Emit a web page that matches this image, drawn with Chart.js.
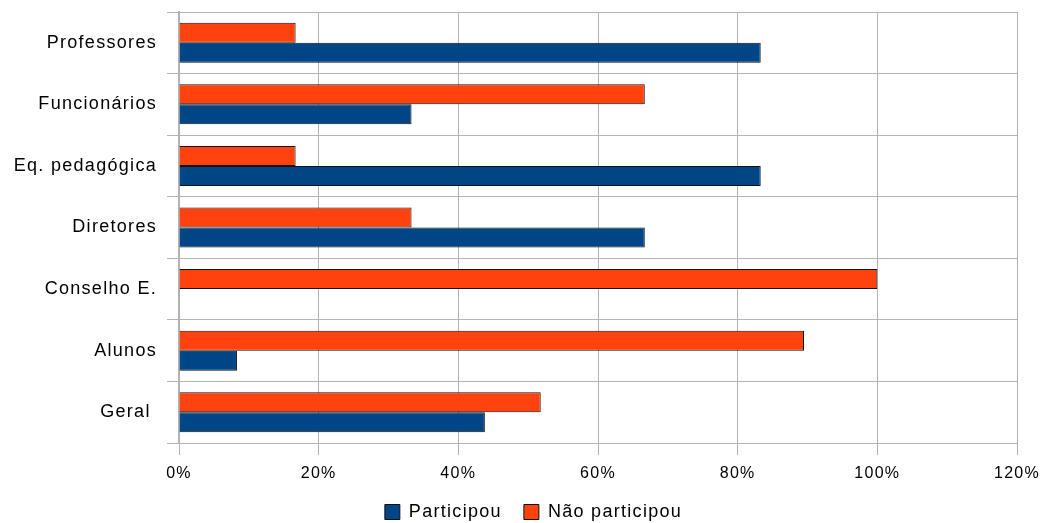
<!DOCTYPE html>
<html>
<head>
<meta charset="utf-8">
<script src="https://cdn.jsdelivr.net/npm/chart.js@4/dist/chart.umd.min.js"></script>
<style>
  html, body { margin: 0; padding: 0; background: #fff; }
  #wrap { width: 1045px; height: 523px; position: relative; }
</style>
</head>
<body>
<div id="wrap"><canvas id="chart"></canvas></div>
<script>
'use strict';

// categories, top to bottom
const categories = ['Professores', 'Funcionários', 'Eq. pedagógica', 'Diretores', 'Conselho E.', 'Alunos', 'Geral '];
// percentages
const participou    = [83.3, 33.3, 83.3, 66.7, 0, 8.3, 43.8];
const naoParticipou = [16.7, 66.7, 16.7, 33.3, 100, 89.5, 51.8];
const xTicks = [0, 20, 40, 60, 80, 100, 120];

const FONT = 'Liberation Sans, Arial, sans-serif';
const GRID = '#b3b3b3';

// the original text is set a bit wide
const spacing = {
  id: 'spacing',
  beforeLayout: c => { c.ctx.letterSpacing = '1.3px'; },
  beforeDraw: c => { c.ctx.letterSpacing = '1.3px'; },
};

// nudge the legend a little right, like the original
const legendNudge = {
  id: 'legendNudge',
  afterLayout: c => {
    c.legend.left += 50;
    c.legend.top += 1;
    c.legend.bottom += 1;
  },
};

const ctx = document.getElementById('chart').getContext('2d');
new Chart(ctx, {
  type: 'bar',
  plugins: [spacing, legendNudge],
  data: {
    labels: categories,
    datasets: [
      // orange first so it sits on top inside each group
      { label: 'Não participou', data: naoParticipou, backgroundColor: '#ff420e', borderColor: '#111', borderWidth: 1 },
      { label: 'Participou', data: participou, backgroundColor: '#004586', borderColor: '#111', borderWidth: 1 },
    ],
  },
  options: {
    indexAxis: 'y',
    responsive: true,
    maintainAspectRatio: false,
    animation: false,
    events: [],
    datasets: { bar: { categoryPercentage: 0.65, barPercentage: 1.0 } },
    layout: { padding: { top: 12, right: 28, left: 0, bottom: -7 } },
    plugins: {
      tooltip: { enabled: false },
      legend: {
        position: 'bottom',
        labels: {
          color: '#000',
          font: { size: 18, family: FONT },
          boxWidth: 15, boxHeight: 15, padding: 22,
          sort: (a, b) => b.datasetIndex - a.datasetIndex,
        },
      },
    },
    scales: {
      x: {
        min: 0, max: 120,
        afterBuildTicks: s => { s.ticks = xTicks.map(v => ({ value: v })); },
        afterFit: s => { s.height = 37; s.paddingLeft = 0; s.paddingRight = 0; },
        ticks: { color: '#000', font: { size: 16, family: FONT }, padding: 9, callback: v => v + '%' },
        grid: { color: GRID, tickLength: 12, lineWidth: 1 },
        border: { color: GRID },
      },
      y: {
        afterFit: s => { s.width = 179; s.paddingTop = 0; s.paddingBottom = 0; },
        ticks: { color: '#000', font: { size: 18, family: FONT }, padding: 10 },
        grid: { color: GRID, tickLength: 12, offset: true },
        border: { color: GRID, width: 2 },
      },
    },
  },
});
</script>
</body>
</html>
